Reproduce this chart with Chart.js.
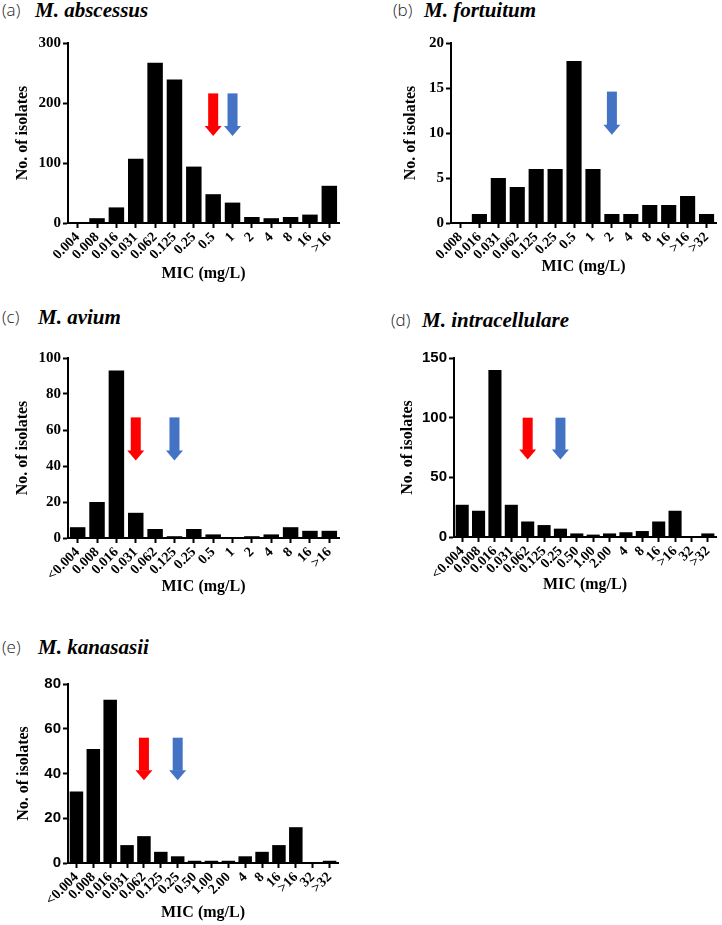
<!DOCTYPE html>
<html>
<head>
<meta charset="utf-8">
<script src="https://cdn.jsdelivr.net/npm/chart.js@4.4.0/dist/chart.umd.min.js"></script>
<style>
  body { margin: 0; background: #fff; width: 722px; height: 925px; position: relative; overflow: hidden; }
  .box { position: absolute; }
  .tag { position: absolute; font-family: 'Open Sans', sans-serif; font-weight: 300; font-size: 17px; color: #222; line-height: 24px; }
  .sp { position: absolute; font-family: 'Liberation Serif', serif; font-weight: bold; font-style: italic; font-size: 21px; line-height: 24px; white-space: nowrap; }
</style>
</head>
<body>
<div class="tag" style="left:2px;top:-2px">(a)</div><div class="sp" style="left:35px;top:-2px">M. abscessus</div>
<div class="tag" style="left:393px;top:-2px">(b)</div><div class="sp" style="left:424px;top:-2px">M. fortuitum</div>
<div class="tag" style="left:2px;top:305px">(c)</div><div class="sp" style="left:38px;top:305px">M. avium</div>
<div class="tag" style="left:391px;top:308px">(d)</div><div class="sp" style="left:422px;top:308px">M. intracellulare</div>
<div class="tag" style="left:2px;top:635px">(e)</div><div class="sp" style="left:38px;top:635px">M. kanasasii</div>

<div class="box" id="wa"><canvas id="ca"></canvas></div>
<div class="box" id="wb"><canvas id="cb"></canvas></div>
<div class="box" id="wc"><canvas id="cc"></canvas></div>
<div class="box" id="wd"><canvas id="cd"></canvas></div>
<div class="box" id="we"><canvas id="ce"></canvas></div>

<script>
// MIC categories and counts per species
const micA = ['0.004','0.008','0.016','0.031','0.062','0.125','0.25','0.5','1','2','4','8','16','>16'];
const isolatesA = [0, 8, 26, 107, 267, 239, 94, 48, 34, 10, 8, 10, 14, 62];

const micB = ['0.008','0.016','0.031','0.062','0.125','0.25','0.5','1','2','4','8','16','>16','>32'];
const isolatesB = [0, 1, 5, 4, 6, 6, 18, 6, 1, 1, 2, 2, 3, 1];

const micC = ['<0.004','0.008','0.016','0.031','0.062','0.125','0.25','0.5','1','2','4','8','16','>16'];
const isolatesC = [6, 20, 93, 14, 5, 1, 5, 2, 0, 1, 2, 6, 4, 4];

const micD = ['<0.004','0.008','0.016','0.031','0.062','0.125','0.25','0.50','1.00','2.00','4','8','16','>16','32','>32'];
const isolatesD = [27, 22, 140, 27, 13, 10, 7, 3, 2, 3, 4, 5, 13, 22, 0, 3];

const micE = ['<0.004','0.008','0.016','0.031','0.062','0.125','0.25','0.50','1.00','2.00','4','8','16','>16','32','>32'];
const isolatesE = [32, 51, 73, 8, 12, 5, 3, 1, 1, 1, 3, 5, 8, 16, 0, 1];

// arrows: [MIC category, top value, tip value]
const redArrowA = ['0.5', 216, 145];
const blueArrowA = ['1', 216, 145];
const blueArrowB = ['2', 14.6, 9.8];
const redArrowC = ['0.031', 67, 43];
const blueArrowC = ['0.125', 67, 43];
const redArrowD = ['0.062', 100, 65];
const blueArrowD = ['0.25', 100, 65];
const redArrowE = ['0.062', 56, 37];
const blueArrowE = ['0.25', 56, 37];

// y axis ranges
const yMax = { a: 300, b: 20, c: 100, d: 150, e: 80 };
const yStep = { a: 100, b: 5, c: 20, d: 50, e: 20 };

const RED = '#ff0000';
const BLUE = '#4472c4';

const arrowPlugin = {
  id: 'arrows',
  afterDatasetsDraw(chart, args, opts) {
    const ctx = chart.ctx;
    const xs = chart.scales.x, ys = chart.scales.y;
    (opts.list || []).forEach(a => {
      const x = xs.getPixelForValue(chart.data.labels.indexOf(a.at[0]));
      const yTop = ys.getPixelForValue(a.at[1]);
      const yTip = ys.getPixelForValue(a.at[2]);
      const head = 10, shaft = 10, hw = 17;
      ctx.save();
      ctx.fillStyle = a.color;
      ctx.fillRect(x - shaft / 2, yTop, shaft, yTip - head - yTop + 0.5);
      ctx.beginPath();
      ctx.moveTo(x - hw / 2, yTip - head);
      ctx.lineTo(x + hw / 2, yTip - head);
      ctx.lineTo(x, yTip);
      ctx.closePath();
      ctx.fill();
      ctx.restore();
    });
  }
};

const serif = 'Liberation Serif';
const sans = 'Liberation Sans';

function drawPanel(key, g, labels, counts, arrows, yFamily) {
  const yW = g.left - g.yTitleX + 11;
  const xH = g.xTitleY - g.bottom + 9;
  const cl = g.left - yW, ct = g.top - 12;
  const w = g.right - cl + 6, h = g.bottom + xH - ct;
  const wrap = document.getElementById('w' + key);
  wrap.style.left = cl + 'px';
  wrap.style.top = ct + 'px';
  wrap.style.width = w + 'px';
  wrap.style.height = h + 'px';

  new Chart(document.getElementById('c' + key), {
    type: 'bar',
    data: {
      labels: labels,
      datasets: [{
        label: 'No. of isolates',
        data: counts,
        backgroundColor: '#000',
        borderWidth: 0,
        barPercentage: 0.8,
        categoryPercentage: 1
      }]
    },
    plugins: [arrowPlugin],
    options: {
      responsive: true,
      maintainAspectRatio: false,
      animation: false,
      layout: { padding: { left: 0, top: 12, right: 6, bottom: 0 } },
      plugins: {
        legend: { display: false },
        tooltip: { enabled: false },
        arrows: { list: arrows }
      },
      scales: {
        x: {
          afterFit: s => { s.height = xH; },
          grid: { drawOnChartArea: false, offset: false, tickLength: 5, tickWidth: 2, tickColor: '#000' },
          border: { color: '#000', width: 2 },
          ticks: {
            color: '#000', minRotation: 45, maxRotation: 45, padding: 1, autoSkip: false,
            font: { family: serif, weight: 'bold', size: 14 }
          },
          title: {
            display: true, text: 'MIC (mg/L)', color: '#000', padding: 0,
            font: { family: serif, weight: 'bold', size: 16 }
          }
        },
        y: {
          min: 0, max: yMax[key],
          afterFit: s => { s.width = yW; },
          grid: { drawOnChartArea: false, tickLength: 5, tickWidth: 2, tickColor: '#000' },
          border: { color: '#000', width: 2 },
          ticks: {
            stepSize: yStep[key], color: '#000', padding: 2,
            font: { family: yFamily, weight: 'bold', size: 15 }
          },
          title: {
            display: true, text: 'No. of isolates', color: '#000', padding: { top: 1, bottom: 0 },
            font: { family: serif, weight: 'bold', size: 16 }
          }
        }
      }
    }
  });
}

drawPanel('a', { left: 68, top: 43, right: 339, bottom: 223, yTitleX: 23, xTitleY: 274 },
  micA, isolatesA, [{ at: redArrowA, color: RED }, { at: blueArrowA, color: BLUE }], serif);
drawPanel('b', { left: 451, top: 43, right: 716, bottom: 223, yTitleX: 411, xTitleY: 267 },
  micB, isolatesB, [{ at: blueArrowB, color: BLUE }], serif);
drawPanel('c', { left: 68, top: 358, right: 339, bottom: 538, yTitleX: 23, xTitleY: 587 },
  micC, isolatesC, [{ at: redArrowC, color: RED }, { at: blueArrowC, color: BLUE }], serif);
drawPanel('d', { left: 454, top: 358, right: 716, bottom: 537, yTitleX: 408, xTitleY: 585 },
  micD, isolatesD, [{ at: redArrowD, color: RED }, { at: blueArrowD, color: BLUE }], sans);
drawPanel('e', { left: 68, top: 684, right: 338, bottom: 863, yTitleX: 24, xTitleY: 913 },
  micE, isolatesE, [{ at: redArrowE, color: RED }, { at: blueArrowE, color: BLUE }], sans);
</script>
</body>
</html>
